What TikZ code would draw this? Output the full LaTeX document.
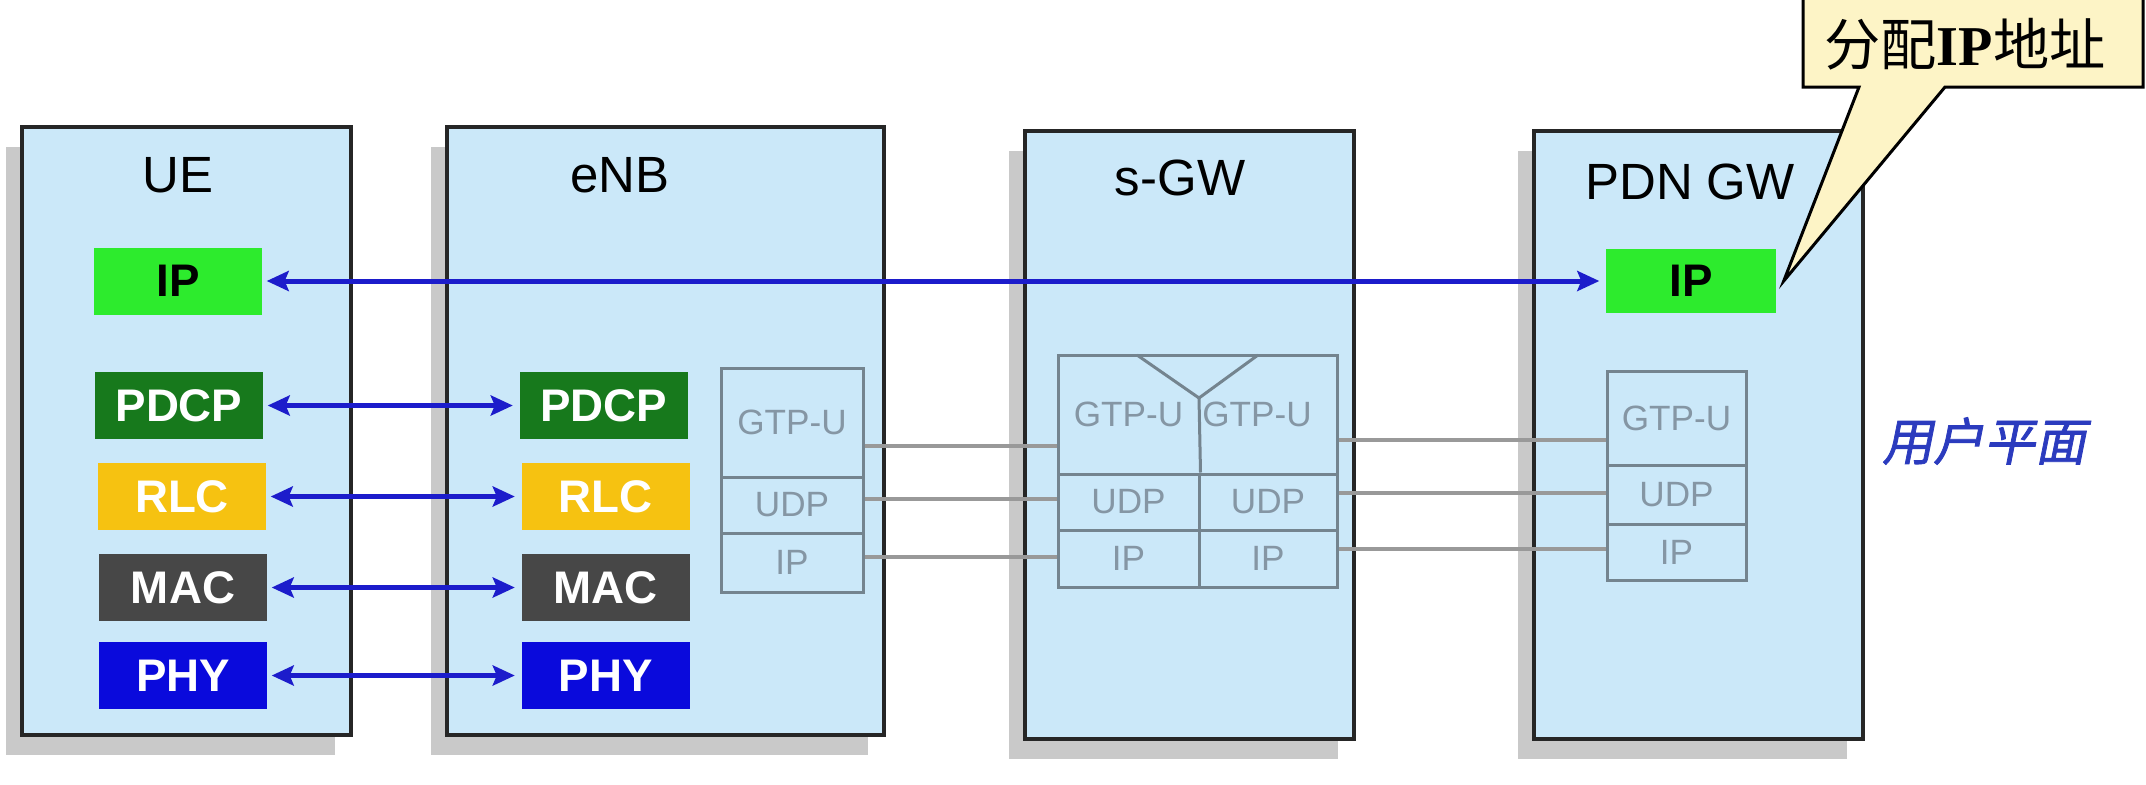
\documentclass[tikz,border=0pt]{standalone}
\usepackage{fontspec}
\setmainfont{Liberation Sans}
\newfontfamily\cjkfont{Noto Sans CJK SC}
\newfontfamily\cjkslfont[FakeSlant=0.2, FakeBold=1.5]{Noto Sans CJK SC}
\newfontfamily\timesfont{Liberation Serif}
\usepackage{tikz}
\usetikzlibrary{arrows.meta, positioning, calc, shadows}
\definecolor{boxBlue}{HTML}{CBE8F9}
\definecolor{shadowGray}{HTML}{C9C9C9}
\definecolor{ipGreen}{HTML}{2DEB2D}
\definecolor{pdcpGreen}{HTML}{17791C}
\definecolor{rlcYellow}{HTML}{F6C211}
\definecolor{macGray}{HTML}{474747}
\definecolor{phyBlue}{HTML}{0A0ADC}
\definecolor{arrowBlue}{HTML}{1C1CCB}
\definecolor{stackLine}{HTML}{74848F}
\definecolor{stackText}{HTML}{8596A4}
\definecolor{wireGray}{HTML}{999999}
\definecolor{noteYellow}{HTML}{FDF4C6}
\definecolor{planeBlue}{HTML}{2B3BBE}
\tikzset{
  ltebox/.style={rectangle, draw=black!85, line width=0.35mm, fill=boxBlue,
                 minimum width=32.9mm, minimum height=60.8mm, inner sep=0pt,
                 drop shadow={shadow xshift=-1.6mm, shadow yshift=-2mm,
                              fill=shadowGray, opacity=1}},
  ltetitle/.style={font=\fontsize{14.5}{16}\selectfont, text=black},
  ltelayer/.style={rectangle, minimum width=16.8mm, minimum height=6.7mm,
                   inner sep=0pt, font=\fontsize{13}{14}\selectfont\bfseries,
                   text=white},
  lteip/.style={ltelayer, fill=ipGreen, text=black},
  ltepdcp/.style={ltelayer, fill=pdcpGreen},
  lterlc/.style={ltelayer, fill=rlcYellow},
  ltemac/.style={ltelayer, fill=macGray},
  ltephy/.style={ltelayer, fill=phyBlue},
  ltecell/.style={rectangle, draw=stackLine, line width=0.3mm, fill=boxBlue,
                  inner sep=0pt, font=\fontsize{10}{11}\selectfont,
                  text=stackText},
  ltecelltext/.style={inner sep=0pt, font=\fontsize{10}{11}\selectfont,
                      text=stackText},
  ltearrow/.style={{Stealth[length=2.2mm, width=2mm, inset=0.4mm]}-{Stealth[length=2.2mm, width=2mm, inset=0.4mm]},
                   line width=0.5mm, arrowBlue, shorten <=0.4mm, shorten >=0.6mm},
  ltewire/.style={line width=0.35mm, wireGray},
  ltecallout/.style={draw=black, line width=0.3mm, fill=noteYellow},
}

\begin{document}
\begin{tikzpicture}[x=0.1mm, y=-0.1mm]
  \useasboundingbox (0,0) rectangle (2146,784);

  % UE
  \node[ltebox] (ue) at (186.5,431) {};
  \node[ltetitle] (uet) at (178,175) {UE};
  \node[lteip] (ueip) at (178,281) {IP};
  \node[ltepdcp] (uepdcp) at (179,405.5) {PDCP};
  \node[lterlc] (uerlc) at (182,496.5) {RLC};
  \node[ltemac] (uemac) at (183,587.5) {MAC};
  \node[ltephy] (uephy) at (183,675.5) {PHY};

  % eNB
  \node[ltebox, minimum width=43.7mm] (enb) at (665.5,431) {};
  \node[ltetitle] (enbt) at (620,175) {eNB};
  \node[ltepdcp] (enbpdcp) at (603.5,405.5) {PDCP};
  \node[lterlc] (enbrlc) at (605.5,496.5) {RLC};
  \node[ltemac] (enbmac) at (605.5,587.5) {MAC};
  \node[ltephy] (enbphy) at (605.5,675.5) {PHY};
  \node[ltecell, minimum width=14.2mm, minimum height=10.9mm] (egtp) at (792,422.5) {GTP-U};
  \node[ltecell, minimum width=14.2mm, minimum height=5.6mm] (eudp) at (792,505) {UDP};
  \node[ltecell, minimum width=14.2mm, minimum height=5.9mm] (eip) at (792,562.5) {IP};

  % s-GW
  \node[ltebox] (sgw) at (1189.5,435) {};
  \node[ltetitle] (sgwt) at (1180,178) {s-GW};
  \node[ltecell, minimum width=27.9mm, minimum height=11.9mm] (sgtp) at (1197.5,414.5) {};
  \node[ltecelltext] (sgtpl) at (1128.5,414) {GTP-U};
  \node[ltecelltext] (sgtpr) at (1257,414) {GTP-U};
  \node[ltecell, minimum width=14.1mm, minimum height=5.6mm] (sudpl) at (1128.5,502) {UDP};
  \node[ltecell, minimum width=13.8mm, minimum height=5.6mm] (sudpr) at (1268,502) {UDP};
  \node[ltecell, minimum width=14.1mm, minimum height=5.7mm] (sipl) at (1128.5,558.5) {IP};
  \node[ltecell, minimum width=13.8mm, minimum height=5.7mm] (sipr) at (1268,558.5) {IP};
  \coordinate (sfork) at (1199,398);
  \draw[stackLine, line width=0.3mm] (1137,355) -- (sfork) -- (1258,355);
  \draw[stackLine, line width=0.3mm] (sfork) -- (sudpl.north east);

  % PDN GW
  \node[ltebox] (pdn) at (1698.5,435) {};
  \node[ltetitle] (pdnt) at (1690,182) {PDN GW};
  \node[lteip, minimum width=17mm, minimum height=6.4mm] (pdnip) at (1691,281) {IP};
  \node[ltecell, minimum width=13.9mm, minimum height=9.4mm] (pgtp) at (1676.5,418) {GTP-U};
  \node[ltecell, minimum width=13.9mm, minimum height=5.9mm] (pudp) at (1676.5,494.5) {UDP};
  \node[ltecell, minimum width=13.9mm, minimum height=5.6mm] (pip) at (1676.5,552) {IP};

  % peer links
  \draw[ltearrow] (ueip) -- (pdnip);
  \draw[ltearrow] (uepdcp) -- (enbpdcp);
  \draw[ltearrow] (uerlc) -- (enbrlc);
  \draw[ltearrow] (uemac) -- (enbmac);
  \draw[ltearrow] (uephy) -- (enbphy);

  % GTP tunnel wires
  \draw[ltewire] ([yshift=-2.35mm]egtp.east) -- ([yshift=-2.35mm]egtp.east -| sgtp.west);
  \draw[ltewire] ([yshift=0.6mm]eudp.east) -- ([yshift=0.6mm]eudp.east -| sudpl.west);
  \draw[ltewire] ([yshift=0.55mm]eip.east) -- ([yshift=0.55mm]eip.east -| sipl.west);
  \draw[ltewire] ([yshift=-2.55mm]sgtp.east) -- ([yshift=-2.55mm]sgtp.east -| pgtp.west);
  \draw[ltewire] ([yshift=0.9mm]sudpr.east) -- ([yshift=0.9mm]sudpr.east -| pudp.west);
  \draw[ltewire] ([yshift=0.95mm]sipr.east) -- ([yshift=0.95mm]sipr.east -| pip.west);

  % callout
  \draw[ltecallout] (1803,-10) |- (1859,87) -- ([xshift=0.7mm]pdnip.east)
    -- (1945,87) -| (2143,-10);
  \node[font=\fontsize{16}{18}\selectfont] (alloc) at (1965,44)
    {\cjkfont 分配{\timesfont\bfseries IP}地址};

  \node[font=\fontsize{14.5}{16}\selectfont, text=planeBlue] (uplane) at (1984,441)
    {\cjkslfont 用户平面};
\end{tikzpicture}
\end{document}
